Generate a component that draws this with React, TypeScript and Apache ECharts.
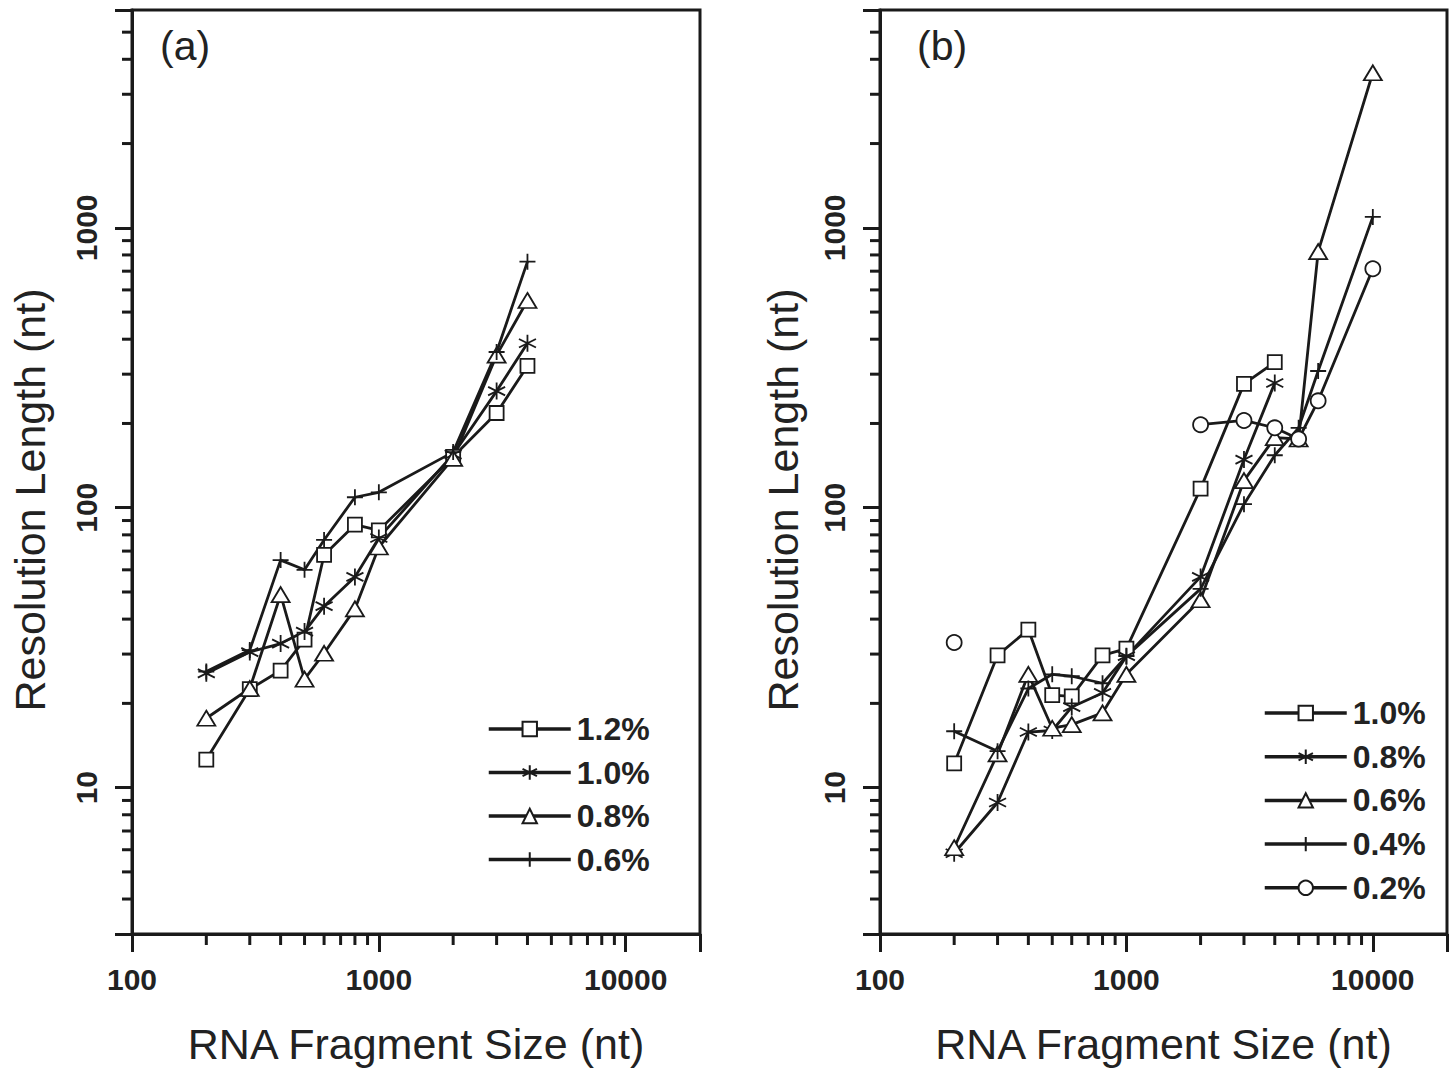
import React, { useEffect, useRef } from "react";
import * as echarts from "echarts";

// ---- data ----
const sizesA = [200, 300, 400, 500, 600, 800, 1000, 2000, 3000, 4000];
const a12 = [12.6, 22.5, 26.2, 33.8, 67.8, 87, 83, 152, 218, 321];
const a10 = [25.6, 30.5, 32.7, 36.1, 44.5, 56.6, 78, 155, 261, 387];
const a08 = [17.7, 22.6, 48.9, 24.4, 30.2, 43.5, 72.4, 150, 351, 550];
const a06 = [26, 31, 65, 60, 76.7, 109, 113.5, 158, 360, 757];

const sizesB = [200, 300, 400, 500, 600, 800, 1000, 2000, 3000, 4000, 5000, 6000, 10000];
const b10 = [12.2, 29.7, 36.7, 21.4, 21.2, 29.7, 31.4, 117, 277, 331, null, null, null];
const b08 = [5.83, 8.85, 15.8, 16, 19.4, 21.8, 29.5, 56.6, 148.6, 279, null, null, null];
const b06 = [6.1, 13.2, 25.4, 16.3, 16.8, 18.5, 25.4, 46.9, 125, 178, 176, 822, 3580];
const b04 = [15.9, 13.5, 22.6, 25.4, 25, 23.6, 29.5, 51.3, 103, 154, 193, 308, 1094];
const b02 = [33, null, null, null, null, null, null, 198, 205, 193, 176, 241, 714];

const legendA = ["1.2%", "1.0%", "0.8%", "0.6%"];
const legendB = ["1.0%", "0.8%", "0.6%", "0.4%", "0.2%"];

const X_MIN = 100;
const X_MAX = 20000;
const Y_MIN = 3;
const Y_MAX = 6000;
const xMinorTicks = [200, 300, 400, 500, 600, 700, 800, 900, 2000, 3000, 4000, 5000, 6000, 7000, 8000, 9000];
const yMinorTicks = [4, 5, 6, 7, 8, 9, 20, 30, 40, 50, 60, 70, 80, 90, 200, 300, 400, 500, 600, 700, 800, 900, 2000, 3000, 4000, 5000];

const INK = "#1a1a1a";
const FONT = "Liberation Sans";

const SYM_SQUARE = "rect";
const SYM_STAR = "path://M5,0L5,10M0.67,2.5L9.33,7.5M0.67,7.5L9.33,2.5";
const SYM_TRI = "triangle";
const SYM_PLUS = "path://M5,0L5,10M0,5L10,5";
const SYM_CIRCLE = "circle";

function symSize(sym: string): any {
  if (sym === SYM_SQUARE) return 14;
  if (sym === SYM_TRI) return [18, 15];
  if (sym === SYM_CIRCLE) return 15;
  if (sym === SYM_PLUS) return 16;
  return 17;
}

function pairs(xs: number[], ys: (number | null)[]) {
  return xs.map((x, i) => [x, ys[i] === null ? "-" : ys[i]]);
}

function lineSeries(prefix: string, name: string, idx: number, xs: number[], ys: (number | null)[], sym: string) {
  return {
    type: "line",
    name: prefix + name,
    xAxisIndex: idx,
    yAxisIndex: idx,
    data: pairs(xs, ys),
    symbol: sym,
    symbolSize: symSize(sym),
    showAllSymbol: true,
    connectNulls: false,
    lineStyle: { color: INK, width: 2.8 },
    itemStyle: { color: "#ffffff", borderColor: INK, borderWidth: 1.8 },
    emphasis: { disabled: true },
    z: 3,
  };
}

function tickSeries(idx: number) {
  const data: number[][] = [];
  xMinorTicks.forEach((v) => data.push([v, Y_MIN, 0]));
  yMinorTicks.forEach((v) => data.push([X_MIN, v, 1]));
  return {
    type: "custom",
    xAxisIndex: idx,
    yAxisIndex: idx,
    silent: true,
    clip: false,
    z: 5,
    data,
    renderItem: (_params: any, api: any) => {
      const p = api.coord([api.value(0), api.value(1)]);
      const kind = api.value(2);
      const shape =
        kind === 0
          ? { x1: p[0], y1: p[1], x2: p[0], y2: p[1] + 11 }
          : { x1: p[0] - 10, y1: p[1], x2: p[0], y2: p[1] };
      return { type: "line", shape, style: { stroke: INK, lineWidth: 3 } };
    },
  };
}

function decadeLabel(v: number) {
  const l = Math.log10(v);
  return Math.abs(l - Math.round(l)) < 1e-6 ? String(Math.round(v)) : "";
}

function xAxis(idx: number) {
  return {
    type: "log",
    logBase: 10,
    gridIndex: idx,
    min: X_MIN,
    max: X_MAX,
    name: "RNA Fragment Size (nt)",
    nameLocation: "middle",
    nameGap: 88,
    nameTextStyle: { fontFamily: FONT, fontSize: 43, color: "#222" },
    axisLine: { show: true, lineStyle: { color: INK, width: 3 } },
    axisTick: { show: true, inside: false, length: 18, lineStyle: { color: INK, width: 3 } },
    minorTick: { show: false },
    splitLine: { show: false },
    axisLabel: {
      margin: 30,
      formatter: decadeLabel,
      fontFamily: FONT,
      fontSize: 30,
      fontWeight: "bold",
      color: "#222",
    },
  };
}

function yAxis(idx: number) {
  return {
    type: "log",
    logBase: 10,
    gridIndex: idx,
    min: Y_MIN,
    max: Y_MAX,
    axisLine: { show: true, lineStyle: { color: INK, width: 3 } },
    axisTick: { show: true, inside: false, length: 17, lineStyle: { color: INK, width: 3 } },
    minorTick: { show: false },
    splitLine: { show: false },
    axisLabel: {
      margin: 31,
      rotate: 90,
      formatter: decadeLabel,
      fontFamily: FONT,
      fontSize: 30,
      fontWeight: "bold",
      color: "#222",
    },
  };
}

function legend(prefix: string, names: string[], left: number, top: number, gap: number) {
  return {
    orient: "vertical",
    left,
    top,
    padding: 0,
    itemWidth: 82,
    itemHeight: 18,
    itemGap: gap,
    selectedMode: false,
    data: names.map((n) => prefix + n),
    formatter: (n: string) => n.slice(prefix.length),
    textStyle: { fontFamily: FONT, fontSize: 32, fontWeight: "bold", color: "#222", lineHeight: 32, padding: [0, 0, 0, 1] },
    lineStyle: { width: 3.5, color: INK },
  };
}

export default function App() {
  const ref = useRef<HTMLDivElement>(null);
  useEffect(() => {
    document.body.style.margin = "0";
    if (!ref.current) return;
    const chart = echarts.init(ref.current, undefined, { renderer: "svg" });
    const option: any = {
      animation: false,
      backgroundColor: "#ffffff",
      grid: [
        { left: 132, top: 10, width: 568, height: 929, show: true, borderColor: INK, borderWidth: 3, backgroundColor: "transparent" },
        { left: 880, top: 10, width: 567, height: 929, show: true, borderColor: INK, borderWidth: 3, backgroundColor: "transparent" },
      ],
      xAxis: [xAxis(0), xAxis(1)],
      yAxis: [yAxis(0), yAxis(1)],
      legend: [legend("a ", legendA, 487, 713, 11.5), legend("b ", legendB, 1263, 697, 11.7)],
      graphic: [
        { type: "text", left: 160, top: 25, style: { text: "(a)", fontFamily: FONT, fontSize: 41, fill: "#222" } },
        { type: "text", left: 917, top: 25, style: { text: "(b)", fontFamily: FONT, fontSize: 41, fill: "#222" } },
        {
          type: "text",
          x: 30,
          y: 500,
          rotation: Math.PI / 2,
          style: { text: "Resolution Length (nt)", fontFamily: FONT, fontSize: 43, fill: "#222", align: "center", verticalAlign: "middle" },
        },
        {
          type: "text",
          x: 783,
          y: 500,
          rotation: Math.PI / 2,
          style: { text: "Resolution Length (nt)", fontFamily: FONT, fontSize: 43, fill: "#222", align: "center", verticalAlign: "middle" },
        },
      ],
      series: [
        tickSeries(0),
        tickSeries(1),
        lineSeries("a ", legendA[0], 0, sizesA, a12, SYM_SQUARE),
        lineSeries("a ", legendA[1], 0, sizesA, a10, SYM_STAR),
        lineSeries("a ", legendA[2], 0, sizesA, a08, SYM_TRI),
        lineSeries("a ", legendA[3], 0, sizesA, a06, SYM_PLUS),
        lineSeries("b ", legendB[0], 1, sizesB, b10, SYM_SQUARE),
        lineSeries("b ", legendB[1], 1, sizesB, b08, SYM_STAR),
        lineSeries("b ", legendB[2], 1, sizesB, b06, SYM_TRI),
        lineSeries("b ", legendB[3], 1, sizesB, b04, SYM_PLUS),
        lineSeries("b ", legendB[4], 1, sizesB, b02, SYM_CIRCLE),
      ],
    };
    chart.setOption(option);
    return () => chart.dispose();
  }, []);
  return <div ref={ref} style={{ width: 1456, height: 1070 }} />;
}
